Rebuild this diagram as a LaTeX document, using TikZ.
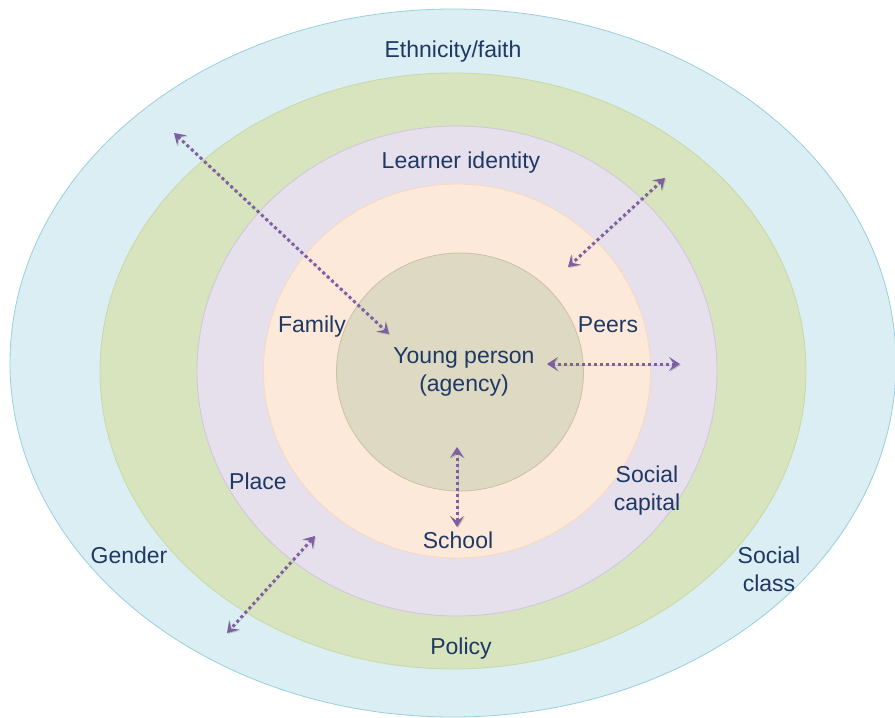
\documentclass[tikz,border=0pt]{standalone}
\usepackage{fontspec}
\setmainfont{Liberation Sans}
\usetikzlibrary{shapes.geometric,arrows.meta}

\definecolor{ethnblue}{HTML}{DAEEF3}
\definecolor{ethnline}{HTML}{9ACFDE}
\definecolor{polgreen}{HTML}{D7E4BD}
\definecolor{polline}{HTML}{C8D9A6}
\definecolor{learnlilac}{HTML}{E5E0EC}
\definecolor{learnline}{HTML}{CFC6DD}
\definecolor{famorange}{HTML}{FDE9D9}
\definecolor{famline}{HTML}{F9D8BE}
\definecolor{youngtan}{HTML}{DDD9C3}
\definecolor{youngline}{HTML}{C9C3A1}
\definecolor{labelblue}{HTML}{1F3864}
\definecolor{linkpurple}{HTML}{7D5FA2}

\begin{document}
\begin{tikzpicture}[x=1pt,y=-1pt,
    ring/.style={ellipse, line width=0.8pt, inner sep=0pt},
    lbl/.style={text=labelblue, font=\fontsize{23}{28}\selectfont, align=center, anchor=base, inner sep=0pt},
    link/.style={draw=linkpurple, line width=3pt, dash pattern=on 3pt off 3pt,
        {Stealth[length=11pt,width=14pt,inset=5pt]}-{Stealth[length=11pt,width=14pt,inset=5pt]},
        preaction={draw=black!50, opacity=.3, transform canvas={shift={(1pt,-1pt)}}}}]
  \useasboundingbox (0,0) rectangle (895,718);

  % rings, outside in
  \node[ring, fill=ethnblue, draw=ethnline, minimum width=886pt, minimum height=708pt]   (ethn)  at (453,363) {};
  \node[ring, fill=polgreen, draw=polline, minimum width=706pt, minimum height=596pt]    (pol)   at (453,371) {};
  \node[ring, fill=learnlilac, draw=learnline, minimum width=520pt, minimum height=490pt] (learn) at (457,371) {};
  \node[ring, fill=famorange, draw=famline, minimum width=387pt, minimum height=374pt]   (fam)   at (457,371) {};
  \node[ring, fill=youngtan, draw=youngline, minimum width=247pt, minimum height=238pt]  (young) at (460,372) {};

  % labels (two-line ones sit on their last baseline)
  \node[lbl] (ethnicity) at (453,57)  {Ethnicity/faith};
  \node[lbl] (identity)  at (461,168) {Learner identity};
  \node[lbl] (family)    at (312,332) {Family};
  \node[lbl] (peers)     at (608,332) {Peers};
  \node[lbl] (person)    at (464,391) {Young person\\(agency)};
  \node[lbl] (place)     at (258,489) {Place};
  \node[lbl] (capital)   at (647,510) {Social\\capital};
  \node[lbl] (school)    at (458,548) {School};
  \node[lbl] (gender)    at (129,563) {Gender};
  \node[lbl] (class)     at (769,591) {Social\\class};
  \node[lbl] (policy)    at (461,654) {Policy};

  % arrow ends
  \coordinate (fam1)   at (174,133);
  \coordinate (fam2)   at (389,334);
  \coordinate (peer1)  at (665,178);
  \coordinate (peer2)  at (568,267);
  \coordinate (mid1)   at (547,364);
  \coordinate (mid2)   at (680,364);
  \coordinate (sch1)   at (457,447);
  \coordinate (sch2)   at (457,527);
  \coordinate (place1) at (315,536);
  \coordinate (place2) at (227,633);

  \path (fam1)   edge[link] (fam2)
        (peer1)  edge[link] (peer2)
        (mid1)   edge[link] (mid2)
        (sch1)   edge[link] (sch2)
        (place1) edge[link] (place2);
\end{tikzpicture}
\end{document}
